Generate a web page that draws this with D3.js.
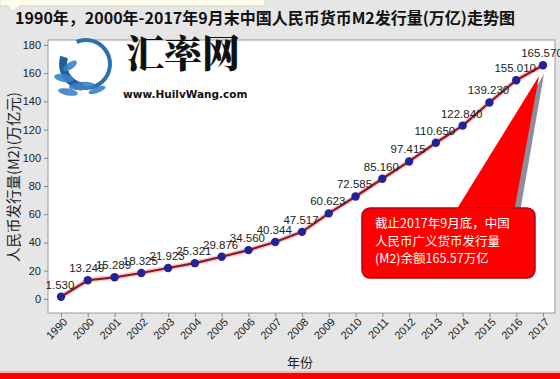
<!DOCTYPE html>
<html><head><meta charset="utf-8">
<script src="https://cdn.jsdelivr.net/npm/d3@7"></script>
<style>
html,body{margin:0;padding:0;background:#e6e6e6;}
svg{display:block;}
</style></head>
<body>
<svg id="c" width="560" height="379"></svg>
<script>
const years = ["1990","2000","2001","2002","2003","2004","2005","2006","2007","2008","2009","2010","2011","2012","2013","2014","2015","2016","2017"];
const m2 = [1.530,13.249,15.289,18.325,21.923,25.321,29.876,34.560,40.344,47.517,60.623,72.585,85.160,97.415,110.650,122.840,139.230,155.010,165.570];
const yTicks = [0,20,40,60,80,100,120,140,160,180];
const title = "1990年，2000年-2017年9月末中国人民币货币M2发行量(万亿)走势图";
const yTitle = "人民币发行量(M2)(万亿元)";
const xTitle = "年份";
const note = ["截止2017年9月底，中国","人民币广义货币发行量","(M2)余额165.57万亿"];

const svg = d3.select("#c");
const W = 560, H = 379;
const cjk = "'Noto Sans CJK SC','Noto Sans',sans-serif";

svg.append("rect").attr("width",W).attr("height",H).attr("fill","#e6e6e6");
svg.append("path").attr("d","M0,-1 H265 V6 H20 L12,12 L8,6 H0 Z").attr("fill","#fdfbea").attr("stroke","#cfcfc0").attr("stroke-width",0.8);
svg.append("rect").attr("x",0).attr("y",373).attr("width",W).attr("height",6).attr("fill","#ff0000");
svg.append("rect").attr("x",0).attr("y",371).attr("width",W).attr("height",2).attr("fill","#f4b0b0");

const plot = {l:48, r:555, t:40, b:313};
svg.append("rect").attr("x",plot.l).attr("y",plot.t).attr("width",plot.r-plot.l).attr("height",plot.b-plot.t)
  .attr("fill","#fff").attr("stroke","#9a9a9a").attr("stroke-width",1);

const x = d3.scalePoint().domain(years).range([61,543]);
const y = d3.scaleLinear().domain([-10,183.5]).range([plot.b,plot.t]);

svg.append("text").attr("x",265).attr("y",24).attr("text-anchor","middle")
  .attr("font-family",cjk).attr("font-weight","bold").attr("font-size",16).attr("fill","#111").text(title);

// logo
const logo = svg.append("g");
const ring = d3.arc()({innerRadius:22,outerRadius:26,startAngle:-0.4,endAngle:Math.PI*1.3});
logo.append("path").attr("d",ring).attr("transform","translate(86,64)").attr("fill","#2a6fb0");
const ring2 = d3.arc()({innerRadius:19,outerRadius:27,startAngle:Math.PI*1.05,endAngle:Math.PI*1.6});
logo.append("path").attr("d",ring2).attr("transform","translate(86,64)").attr("fill","#1f5f9e");
const leaves = [[70,66,8,3.5,-35],[64,78,10,4,10],[82,86,13,4,-5],[68,92,10,3.5,10],[97,90,9,3,-20]];
logo.selectAll("ellipse.lf").data(leaves).join("ellipse").attr("class","lf")
  .attr("cx",d=>d[0]).attr("cy",d=>d[1]).attr("rx",d=>d[2]).attr("ry",d=>d[3])
  .attr("transform",d=>`rotate(${d[4]},${d[0]},${d[1]})`).attr("fill","#3b82c4").attr("opacity",0.9);
logo.append("text").attr("x",126).attr("y",67).attr("font-family","'Noto Serif CJK SC','Noto Sans CJK SC',serif")
  .attr("font-weight","900").attr("font-size",38).attr("fill","#111").text("汇率网");
logo.append("text").attr("x",123).attr("y",98).attr("font-family","'DejaVu Sans',sans-serif")
  .attr("font-weight","bold").attr("font-size",10.5).attr("fill","#111").text("www.HuilvWang.com");

const yAxis = svg.append("g").attr("transform",`translate(${plot.l},0)`)
  .call(d3.axisLeft(y).tickValues(yTicks).tickSize(4).tickPadding(3));
yAxis.select(".domain").remove();
yAxis.selectAll("line").attr("stroke","#888");
yAxis.selectAll("text").attr("font-family","'Liberation Sans',Arial,sans-serif").attr("font-size",11).attr("fill","#222");

const xAxis = svg.append("g").attr("transform",`translate(0,${plot.b})`)
  .call(d3.axisBottom(x).tickSize(4).tickPadding(2));
xAxis.select(".domain").remove();
xAxis.selectAll("line").attr("stroke","#888");
xAxis.selectAll("text").attr("font-family","'Liberation Sans',Arial,sans-serif").attr("font-size",11).attr("fill","#222")
  .attr("text-anchor","end").attr("dx","-0.2em").attr("dy","0.5em").attr("transform","rotate(-45)");

svg.append("text").attr("transform","translate(19,177) rotate(-90)").attr("text-anchor","middle")
  .attr("font-family",cjk).attr("font-size",14.5).attr("fill","#222").text(yTitle);
svg.append("text").attr("x",300).attr("y",367).attr("text-anchor","middle")
  .attr("font-family",cjk).attr("font-size",13).attr("fill","#222").text(xTitle);

const co = svg.append("g");
co.append("path").attr("d","M462,212 L520,212 L544,74 Z").attr("fill","#8e8e9a");
co.append("path").attr("d","M455,212 L514,212 L539,76 Z").attr("fill","#ff0000");
co.append("rect").attr("x",362).attr("y",208).attr("width",173).attr("height",70).attr("rx",8)
  .attr("fill","#ff0000").attr("stroke","#b00010").attr("stroke-width",1.5);
co.append("path").attr("d","M456,209 L513,209").attr("stroke","#ff0000").attr("stroke-width",2);
co.selectAll("text").data(note).join("text").attr("x",375).attr("y",(d,i)=>228+i*17.5)
  .attr("font-family",cjk).attr("font-size",12.5).attr("fill","#fff").text(d=>d);

const line = d3.line().x((d,i)=>x(years[i])).y(d=>y(d));
svg.append("path").datum(m2).attr("d",line).attr("fill","none").attr("stroke","#f4a0a8").attr("stroke-width",5).attr("opacity",0.6);
svg.append("path").datum(m2).attr("d",line).attr("fill","none").attr("stroke","#8b1a22").attr("stroke-width",2.2);
svg.selectAll("circle.pt").data(m2).join("circle").attr("class","pt")
  .attr("cx",(d,i)=>x(years[i])).attr("cy",d=>y(d)).attr("r",4.2).attr("fill","#22229a");

const fmt = d3.format(".3f");
svg.selectAll("text.lbl").data(m2).join("text").attr("class","lbl")
  .attr("x",(d,i)=>x(years[i])-1).attr("y",d=>y(d)-8).attr("text-anchor","middle")
  .attr("font-family","'Liberation Sans',Arial,sans-serif").attr("font-size",11.5).attr("fill","#222")
  .text(d=>fmt(d));
</script>
</body></html>
